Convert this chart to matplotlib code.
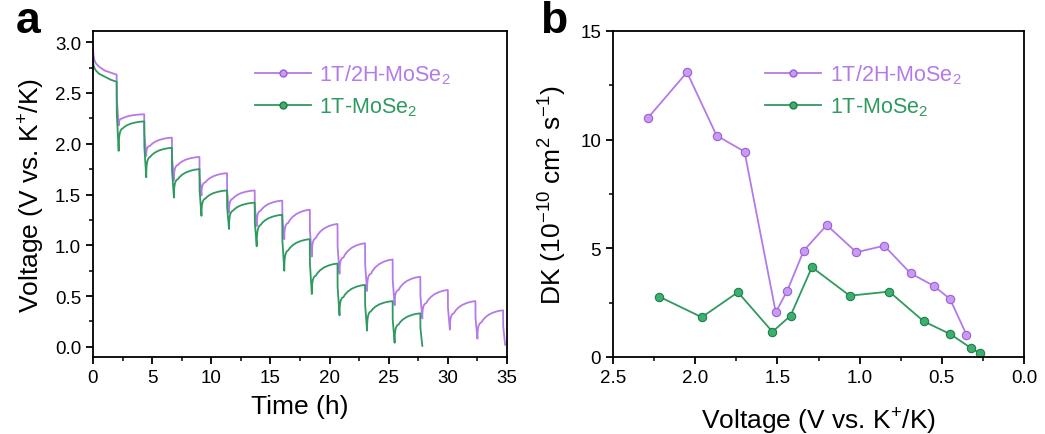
import matplotlib
matplotlib.use("Agg")
import matplotlib.pyplot as plt
from matplotlib.lines import Line2D
from matplotlib.ticker import MultipleLocator

plt.rcParams['font.family'] = ['Liberation Sans', 'DejaVu Sans']
plt.rcParams['mathtext.fontset'] = 'custom'
plt.rcParams['mathtext.rm'] = 'Liberation Sans'
plt.rcParams['mathtext.it'] = 'Liberation Sans'

PURPLE = '#b47ae8'
GREEN = '#2e9a60'

labels = ['1T/2H-MoSe$_2$', '1T-MoSe$_2$']

# ---------- Panel a: GITT ----------
pulse_starts = [2.0, 4.33, 6.67, 9.0, 11.33, 13.67, 16.0, 18.33, 20.67, 23.0,
                25.33, 27.67, 30.0, 32.33, 34.67]

init_t_p = [0, 0.03, 0.1, 0.25, 0.5, 1.0, 1.5, 2.0]
init_v_p = [2.96, 2.88, 2.83, 2.79, 2.76, 2.72, 2.70, 2.68]
dips_p = [2.18, 1.88, 1.64, 1.49, 1.32, 1.19, 1.06, 0.89, 0.72, 0.55, 0.41, 0.28, 0.17, 0.08, 0.02]
knees_p = [2.25, 1.98, 1.79, 1.62, 1.46, 1.34, 1.22, 1.07, 0.88, 0.72, 0.56, 0.43, 0.33, 0.24]
ends_p = [2.29, 2.06, 1.87, 1.71, 1.54, 1.44, 1.35, 1.21, 1.02, 0.86, 0.69, 0.56, 0.45, 0.36]

init_t_g = [0, 0.03, 0.1, 0.25, 0.5, 1.0, 1.5, 2.0]
init_v_g = [2.84, 2.78, 2.75, 2.72, 2.69, 2.66, 2.63, 2.61]
dips_g = [1.93, 1.67, 1.47, 1.29, 1.16, 0.99, 0.75, 0.52, 0.31, 0.16, 0.04, 0.01]
knees_g = [2.15, 1.87, 1.65, 1.46, 1.34, 1.20, 0.95, 0.70, 0.49, 0.35, 0.22]
ends_g = [2.22, 1.96, 1.75, 1.54, 1.42, 1.30, 1.06, 0.82, 0.61, 0.45, 0.33]

# shape templates (fractions of the way)
PULSE = 0.17
IR_FRAC = 0.45
rise_dt = [0, 0.01, 0.04, 0.09, 0.16, 0.24, 0.33]
rise_f = [0, 0.35, 0.6, 0.78, 0.9, 0.97, 1.0]
settle_pos = [0, 0.08, 0.2, 0.38, 0.6, 0.8, 1.0]
settle_f = [0, 0.22, 0.45, 0.68, 0.85, 0.95, 1.0]


def build(init_t, init_v, dips, knees, ends):
    t = list(init_t)
    v = list(init_v)
    prev = init_v[-1]
    for i, dip in enumerate(dips):
        t0 = pulse_starts[i]
        t += [t0 + 0.01, t0 + PULSE]
        v += [prev - IR_FRAC * (prev - dip), dip]
        if i < len(ends):
            td = t0 + PULSE
            for dt, f in zip(rise_dt[1:], rise_f[1:]):
                t.append(td + dt)
                v.append(dip + f * (knees[i] - dip))
            tk = td + rise_dt[-1]
            tend = pulse_starts[i + 1]
            for p, f in zip(settle_pos[1:], settle_f[1:]):
                t.append(tk + p * (tend - tk))
                v.append(knees[i] + f * (ends[i] - knees[i]))
            prev = ends[i]
    return t, v


fig = plt.figure(figsize=(10.45, 4.35), dpi=100)
axa = fig.add_axes([93 / 1045, 77 / 435, 414 / 1045, 326 / 435])
axb = fig.add_axes([613 / 1045, 77 / 435, 411 / 1045, 326 / 435])

tp, vp = build(init_t_p, init_v_p, dips_p, knees_p, ends_p)
tg, vg = build(init_t_g, init_v_g, dips_g, knees_g, ends_g)
axa.plot(tp, vp, color=PURPLE, lw=1.3)
axa.plot(tg, vg, color=GREEN, lw=1.3)

axa.set_xlim(0, 35)
axa.set_ylim(-0.1, 3.11)
axa.xaxis.set_major_locator(MultipleLocator(5))
axa.xaxis.set_minor_locator(MultipleLocator(2.5))
axa.yaxis.set_major_locator(MultipleLocator(0.5))
axa.yaxis.set_minor_locator(MultipleLocator(0.25))
axa.set_yticks([0, 0.5, 1.0, 1.5, 2.0, 2.5, 3.0])
axa.set_yticklabels(['0.0', '0.5', '1.0', '1.5', '2.0', '2.5', '3.0'])
axa.set_xlabel('Time (h)', fontsize=19, labelpad=6)
axa.set_ylabel('Voltage (V vs. K$^{+}$/K)', fontsize=19, labelpad=6)

# ---------- Panel b: diffusion coefficients ----------
volt_p = [2.29, 2.05, 1.87, 1.70, 1.51, 1.44, 1.34, 1.20, 1.02, 0.85, 0.69, 0.55, 0.45, 0.35]
dk_p = [10.98, 13.1, 10.19, 9.45, 2.06, 3.05, 4.89, 6.07, 4.82, 5.12, 3.85, 3.28, 2.67, 1.03]
volt_g = [2.22, 1.96, 1.74, 1.53, 1.42, 1.29, 1.06, 0.82, 0.61, 0.45, 0.32, 0.27]
dk_g = [2.78, 1.83, 2.98, 1.16, 1.90, 4.13, 2.82, 3.01, 1.64, 1.06, 0.40, 0.18]

mk = dict(marker='o', markersize=6, markeredgewidth=0.8)
axb.plot(volt_p, dk_p, color=PURPLE, lw=1.3, markerfacecolor='#c99af2',
         markeredgecolor='#9a5fd6', **mk)
axb.plot(volt_g, dk_g, color=GREEN, lw=1.3, markerfacecolor='#3db070',
         markeredgecolor='#1f7d48', **mk)
axb.set_xlim(2.5, 0.0)
axb.set_ylim(0, 15)
axb.xaxis.set_major_locator(MultipleLocator(0.5))
axb.xaxis.set_minor_locator(MultipleLocator(0.25))
axb.yaxis.set_major_locator(MultipleLocator(5))
axb.yaxis.set_minor_locator(MultipleLocator(2.5))
axb.set_xticks([2.5, 2.0, 1.5, 1.0, 0.5, 0.0])
axb.set_xticklabels(['2.5', '2.0', '1.5', '1.0', '0.5', '0.0'])
axb.set_xlabel('Voltage (V vs. K$^{+}$/K)', fontsize=19, labelpad=14)
axb.set_ylabel('DK (10$^{-10}$ cm$^{2}$ s$^{-1}$)', fontsize=19, labelpad=8)

for ax in (axa, axb):
    for s in ax.spines.values():
        s.set_linewidth(1.3)
    ax.tick_params(which='major', direction='out', length=5, width=1.3,
                   labelsize=13.5, top=False, right=False)
    ax.tick_params(which='minor', direction='out', length=3, width=1.1,
                   top=False, right=False)
    handles = [Line2D([], [], color=PURPLE, lw=1.3, marker='o', markersize=5,
                      markerfacecolor='#c99af2', markeredgecolor='#9a5fd6'),
               Line2D([], [], color=GREEN, lw=1.3, marker='o', markersize=5,
                      markerfacecolor='#3db070', markeredgecolor='#1f7d48')]
    ax.legend(handles, labels, loc='upper left',
              bbox_to_anchor=(0.37 if ax is axa else 0.35, 0.93),
              frameon=False, fontsize=15.5, labelcolor=[PURPLE, GREEN],
              handlelength=2.6, handletextpad=0.4, labelspacing=0.45,
              borderaxespad=0)

fig.text(16 / 1045, 1 - 33 / 435, 'a', fontsize=32, fontweight='bold', va='baseline')
fig.text(540 / 1045, 1 - 33 / 435, 'b', fontsize=32, fontweight='bold', va='baseline')

fig.savefig('out.png', dpi=100)
